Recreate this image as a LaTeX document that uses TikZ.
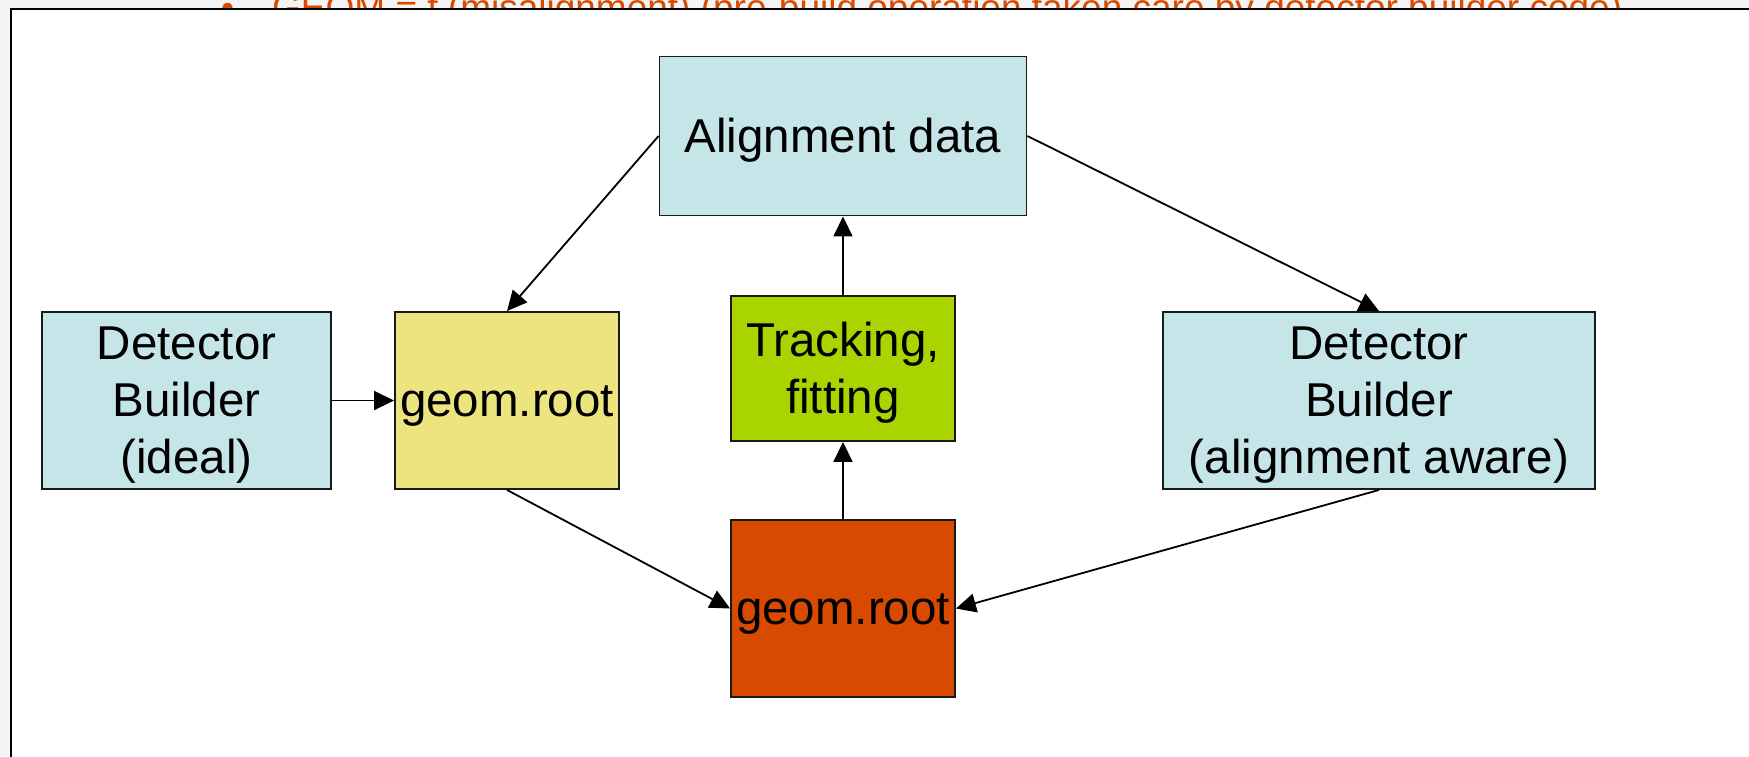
\documentclass[tikz,border=0pt]{standalone}
\usepackage{fontspec}
\setmainfont{Liberation Sans}
\usetikzlibrary{arrows.meta}
\definecolor{lblue}{HTML}{C6E5E9}
\definecolor{lyellow}{HTML}{ECE47E}
\definecolor{lgreen}{HTML}{AAD400}
\definecolor{orng}{HTML}{D84A00}
\definecolor{bggray}{HTML}{F4F4F4}
\newcommand\lstrut{\rule[-0.212em]{0pt}{1.117em}}
\begin{document}
\begin{tikzpicture}[x=1pt,y=-1pt,
  box/.style={draw=black!90,line width=1.9pt,inner sep=0pt,align=center,
    font=\fontsize{47.5}{57}\selectfont},
  conn/.style={line width=1.8pt,-{Triangle[length=20pt,width=19pt]}}]
\useasboundingbox (0,0) rectangle (1749,756);
\clip (0,0) rectangle (1749,756);
\fill[bggray] (0,0) rectangle (1749,756);
\node[anchor=base west,text=orng,inner sep=0pt,font=\fontsize{37}{44}\selectfont] (bul) at (221,20) {•};
\node[anchor=base west,text=orng,inner sep=0pt,font=\fontsize{37}{44}\selectfont] (title) at (272,20) {GEOM = f (misalignment) (pre-build operation taken care by detector builder code)};
\draw[fill=white,line width=2.2pt] (11,9) rectangle (1780,790);
\node[box,fill=lblue,minimum width=367pt,minimum height=159pt] (align) at (843,136) {\lstrut Alignment data};
\node[box,fill=lblue,minimum width=289pt,minimum height=177pt] (ldb) at (186.5,400.5) {\lstrut Detector\\\lstrut Builder\\\lstrut (ideal)};
\node[box,fill=lyellow,minimum width=224pt,minimum height=177pt] (yel) at (507,400.5) {\lstrut geom.root};
\node[box,fill=lgreen,minimum width=224pt,minimum height=145pt] (trk) at (843,368.5) {\lstrut Tracking,\\\lstrut fitting};
\node[box,fill=orng,minimum width=224pt,minimum height=177pt] (org) at (843,608.5) {\lstrut geom.root};
\node[box,fill=lblue,minimum width=432pt,minimum height=177pt] (rdb) at (1379,400.5) {\lstrut Detector\\\lstrut Builder\\\lstrut (alignment aware)};
\draw[conn] (align.west) -- (yel.north);
\draw[conn] (align.east) -- (rdb.north);
\draw[conn] (ldb.east) -- (yel.west);
\draw[conn] (yel.south) -- (org.west);
\draw[conn] (rdb.south) -- (org.east);
\draw[conn] (org.north) -- (trk.south);
\draw[conn] (trk.north) -- (align.south);
\end{tikzpicture}
\end{document}
